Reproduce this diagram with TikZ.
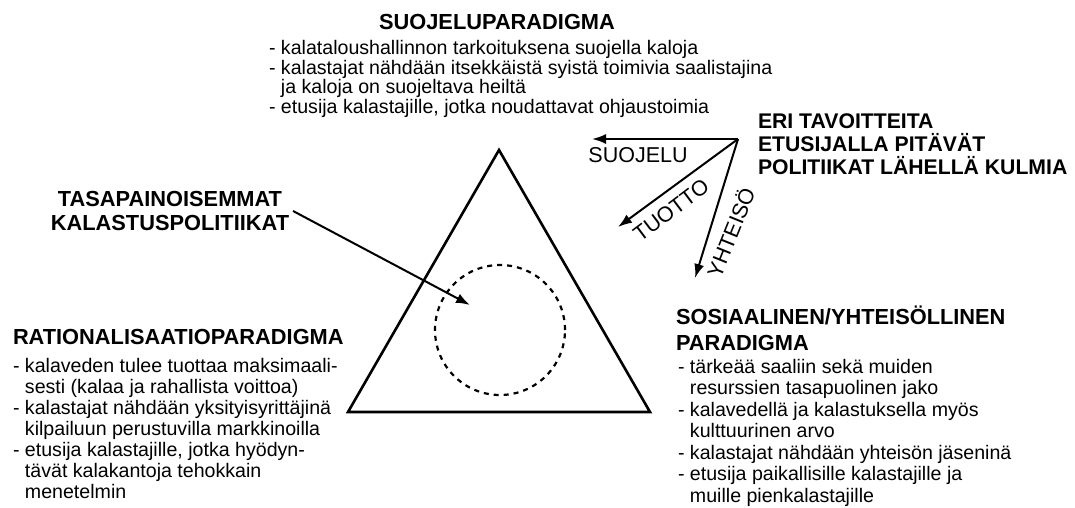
\documentclass[tikz,border=0pt]{standalone}
\usepackage{fontspec}
\setmainfont{Liberation Sans}
\usetikzlibrary{arrows.meta}

\newcommand{\hang}{\hphantom{- }}

\begin{document}
\begin{tikzpicture}[x=1pt, y=-1pt, >={Latex[length=14pt,width=10pt]}, line width=2pt]
\useasboundingbox (0,0) rectangle (1075,507);

\tikzstyle{head}=[font=\fontsize{21.8}{24}\selectfont\bfseries, inner sep=0pt, align=left]
\tikzstyle{body}=[font=\fontsize{19.6}{21}\selectfont, inner sep=0pt, align=left]
\tikzstyle{lbl}=[font=\fontsize{21.5}{23}\selectfont, inner sep=0pt]

\draw (497,22) node[head] (suoj) {SUOJELUPARADIGMA};
\draw (268,39) node[body, anchor=north west, font=\fontsize{19.6}{19.8}\selectfont] (suojtxt)
  {- kalataloushallinnon tarkoituksena suojella kaloja\\
   - kalastajat nähdään itsekkäistä syistä toimivia saalistajina\\
   \hang ja kaloja on suojeltava heiltä\\
   - etusija kalastajille, jotka noudattavat ohjaustoimia};

\draw (12,328) node[head, anchor=north west] (rat) {RATIONALISAATIOPARADIGMA};
\draw (12,357) node[body, anchor=north west] (rattxt)
  {- kalaveden tulee tuottaa maksimaali-\\
   \hang sesti (kalaa ja rahallista voittoa)\\
   - kalastajat nähdään yksityisyrittäjinä\\
   \hang kilpailuun perustuvilla markkinoilla\\
   - etusija kalastajille, jotka hyödyn-\\
   \hang tävät kalakantoja tehokkain\\
   \hang menetelmin};

\draw (675,305) node[head, anchor=north west, font=\fontsize{21.8}{26}\selectfont\bfseries] (sos)
  {SOSIAALINEN/YHTEISÖLLINEN\\PARADIGMA};
\draw (677,358) node[body, anchor=north west, font=\fontsize{19.6}{21.5}\selectfont] (sostxt)
  {- tärkeää saaliin sekä muiden\\
   \hang resurssien tasapuolinen jako\\
   - kalavedellä ja kalastuksella myös\\
   \hang kulttuurinen arvo\\
   - kalastajat nähdään yhteisön jäseninä\\
   - etusija paikallisille kalastajille ja\\
   \hang muille pienkalastajille};

\draw (757,113) node[head, anchor=north west, font=\fontsize{21.2}{23}\selectfont\bfseries] (eri)
  {ERI TAVOITTEITA\\ETUSIJALLA PITÄVÄT\\POLITIIKAT LÄHELLÄ KULMIA};

\draw (170,211) node[head, align=center, inner sep=3pt] (tasa)
  {TASAPAINOISEMMAT\\KALASTUSPOLITIIKAT};

\coordinate (apex) at (499,150);
\coordinate (left) at (348,412);
\coordinate (right) at (650,412);
\draw[line width=2.6pt, line join=miter] (apex) -- (left) -- (right) -- cycle;

\draw (500,330) node[circle, draw, line width=2.2pt, dash pattern=on 5pt off 5pt, minimum size=130pt] (bal) {};

\coordinate (aim) at (470,305);
\draw[->] (tasa.east) -- (aim);

\coordinate (hub) at (738,139);
\coordinate (tsuo) at (592,139);
\coordinate (ttuo) at (618,227);
\coordinate (tyht) at (695,278);
\draw[->] (hub) -- (tsuo);
\draw[->] (hub) -- (ttuo);
\draw[->] (hub) -- (tyht);

\draw (638,155) node[lbl] (lsuo) {SUOJELU};
\draw (671,210) node[lbl, rotate=37] (ltuo) {TUOTTO};
\draw (730,232) node[lbl, rotate=68] (lyht) {YHTEISÖ};

\end{tikzpicture}
\end{document}
